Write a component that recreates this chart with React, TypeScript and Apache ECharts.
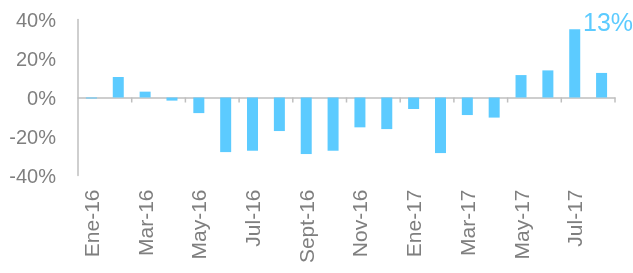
import React, { useEffect, useRef } from "react";
import * as echarts from "echarts";

const categories = [
  "Ene-16", "Feb-16", "Mar-16", "Abr-16", "May-16", "Jun-16", "Jul-16", "Ago-16",
  "Sept-16", "Oct-16", "Nov-16", "Dic-16", "Ene-17", "Feb-17", "Mar-17", "Abr-17",
  "May-17", "Jun-17", "Jul-17", "Ago-17",
];
const values = [
  -0.5, 10.5, 3, -1.6, -8, -28, -27.3, -17.2, -29, -27.3, -15.3, -16.2, -5.9, -28.5,
  -9, -10.3, 11.5, 13.9, 35, 12.6,
];
// category boundaries (in category units) where the zero-line ticks sit
const tickBoundaries = [2, 4, 6, 8, 10, 12, 14, 16, 18, 20];
const annotation = "13%";

export default function App() {
  const ref = useRef<HTMLDivElement>(null);
  useEffect(() => {
    if (!ref.current) return;
    const chart = echarts.init(ref.current, null, { renderer: "svg" });
    const font = "'Liberation Sans', Arial, sans-serif";
    chart.setOption({
      animation: false,
      grid: { left: 78, right: 18, top: 19.5, bottom: 97.5, outerBoundsMode: "none", containLabel: false },
      xAxis: {
        type: "category",
        data: categories,
        axisLine: { onZero: true, lineStyle: { color: "#bfbfbf", width: 1.5 } },
        axisTick: { show: false },
        axisLabel: {
          interval: 1,
          rotate: 90,
          margin: 14,
          color: "#7f7f7f",
          fontSize: 21,
          fontFamily: font,
        },
      },
      yAxis: {
        type: "value",
        min: -40,
        max: 40,
        interval: 20,
        splitLine: { show: false },
        axisLine: { show: true, lineStyle: { color: "#bfbfbf", width: 1.5 } },
        axisTick: { show: false },
        axisLabel: {
          formatter: "{value}%",
          color: "#7f7f7f",
          fontSize: 20,
          margin: 22,
          fontFamily: font,
        },
      },
      series: [
        {
          type: "bar",
          data: values,
          barWidth: 11,
          itemStyle: { color: "#5ccbff" },
        },
        {
          type: "custom",
          data: tickBoundaries.map((b) => [b, 0]),
          silent: true,
          z: 5,
          renderItem: (params: any, api: any) => {
            const b = api.value(0);
            const band = api.size([1, 0])[0];
            const p0 = api.coord([0, 0]);
            const x = p0[0] - band / 2 + b * band;
            const y = p0[1];
            return {
              type: "line",
              shape: { x1: x, y1: y, x2: x, y2: y + 5 },
              style: { stroke: "#bfbfbf", lineWidth: 1.5 },
            };
          },
        },
      ],
      graphic: [
        {
          type: "text",
          left: 583,
          top: 9,
          style: {
            text: annotation,
            fill: "#5ccbff",
            fontSize: 25,
            fontFamily: font,
          },
        },
      ],
    });
    return () => chart.dispose();
  }, []);
  return (
    <div
      ref={ref}
      style={{ position: "fixed", left: 0, top: 0, width: 633, height: 273 }}
    />
  );
}
